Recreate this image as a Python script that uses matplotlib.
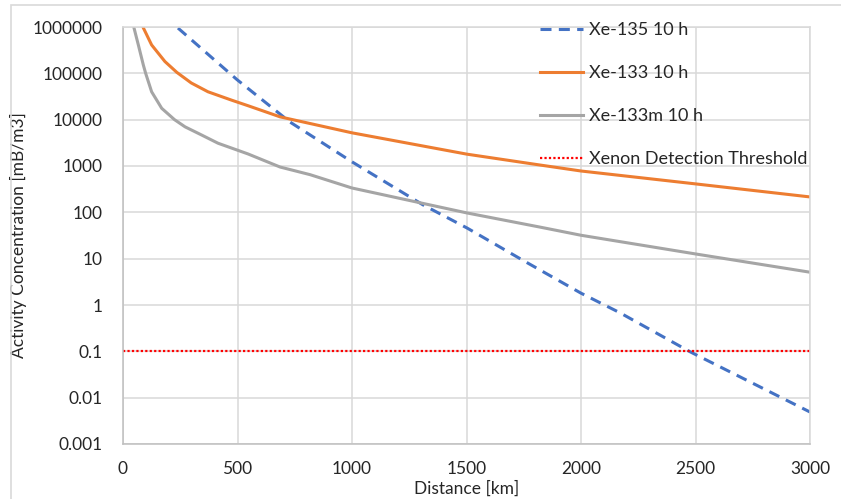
import numpy as np
import matplotlib.pyplot as plt
from matplotlib.patches import Rectangle

plt.rcParams['font.family'] = ['Lato', 'DejaVu Sans']

# values (distance in km, activity in mB/m3)
dist_xe135 = [240, 498, 729, 1000, 1310, 1502, 1750, 2000, 2170, 2476, 3000]
act_xe135 = [9.5e5, 7.3e4, 8900, 1230, 145, 46, 9.0, 1.8, 0.68, 0.098, 0.0049]

dist_xe133 = [87, 125, 183, 235, 298, 371, 473, 546, 686, 1000, 1502, 1821, 2000, 2502, 3000]
act_xe133 = [1e6, 4.1e5, 1.8e5, 1.05e5, 6.2e4, 4e4, 2.65e4, 2.0e4, 1.15e4, 5200, 1800, 1050, 780, 410, 215]

dist_xe133m = [47, 67, 89, 99, 125, 169, 225, 271, 342, 415, 546, 686, 817, 1000, 1502, 1821, 2000, 2502, 3000]
act_xe133m = [1e6, 4.1e5, 1.5e5, 1e5, 4e4, 1.76e4, 1e4, 7000, 4700, 3100, 1820, 950, 650, 335, 97, 48, 32, 12.6, 5.1]

threshold = 0.1
yticks = [1e-3, 1e-2, 1e-1, 1, 10, 100, 1000, 1e4, 1e5, 1e6]
ytick_labels = ['0.001', '0.01', '0.1', '1', '10', '100', '1000', '10000', '100000', '1000000']
xticks = [0, 500, 1000, 1500, 2000, 2500, 3000]

fig = plt.figure(figsize=(8.41, 4.99), dpi=100)
ax = fig.add_axes([123/841, 1-444/499, 687/841, 417/499])

ax.plot(dist_xe135, act_xe135, color='#4472C4', lw=2.2, dashes=(3.6, 2.4), label='Xe-135 10 h')
ax.plot(dist_xe133, act_xe133, color='#ED7D31', lw=2.2, label='Xe-133 10 h')
ax.plot(dist_xe133m, act_xe133m, color='#A5A5A5', lw=2.2, label='Xe-133m 10 h')
ax.axhline(threshold, color='#FF0000', lw=1.6, linestyle=(0, (1, 1)), label='Xenon Detection Threshold')

ax.set_yscale('log')
ax.set_ylim(1e-3, 1e6)
ax.set_xlim(0, 3000)
ax.yaxis.set_major_locator(plt.FixedLocator(yticks))
ax.yaxis.set_minor_locator(plt.NullLocator())
ax.set_yticklabels(ytick_labels)
ax.set_xticks(xticks)
ax.tick_params(length=0, labelsize=12.5, colors='#262626')
ax.tick_params(axis='y', pad=15)
ax.tick_params(axis='x', pad=12)
ax.grid(True, color='#d9d9d9', lw=1.1)
ax.set_axisbelow(True)
for s in ax.spines.values():
    s.set_color('#d9d9d9')
    s.set_linewidth(1.1)
ax.spines['left'].set_color('#bfbfbf')
ax.spines['bottom'].set_color('#bfbfbf')

ax.set_ylabel('Activity Concentration [mB/m3]', fontsize=12.5, color='#262626')
ax.yaxis.set_label_coords(-0.14, 0.5)
ax.set_xlabel('Distance [km]', fontsize=12.5, color='#262626')
ax.xaxis.set_label_coords(0.5, -0.088)

fig.legend(loc='upper left', bbox_to_anchor=(540/841, 1-22/499), frameon=False,
           fontsize=13, handlelength=2.4, handletextpad=0.3, labelspacing=1.5,
           borderpad=0, borderaxespad=0, labelcolor='#262626')

fig.patches.append(Rectangle((11/841, -0.1), 1.0, 1-5/499+0.1, transform=fig.transFigure,
                             fill=False, edgecolor='#d9d9d9', lw=1.2))

plt.savefig('out.png', dpi=100)
